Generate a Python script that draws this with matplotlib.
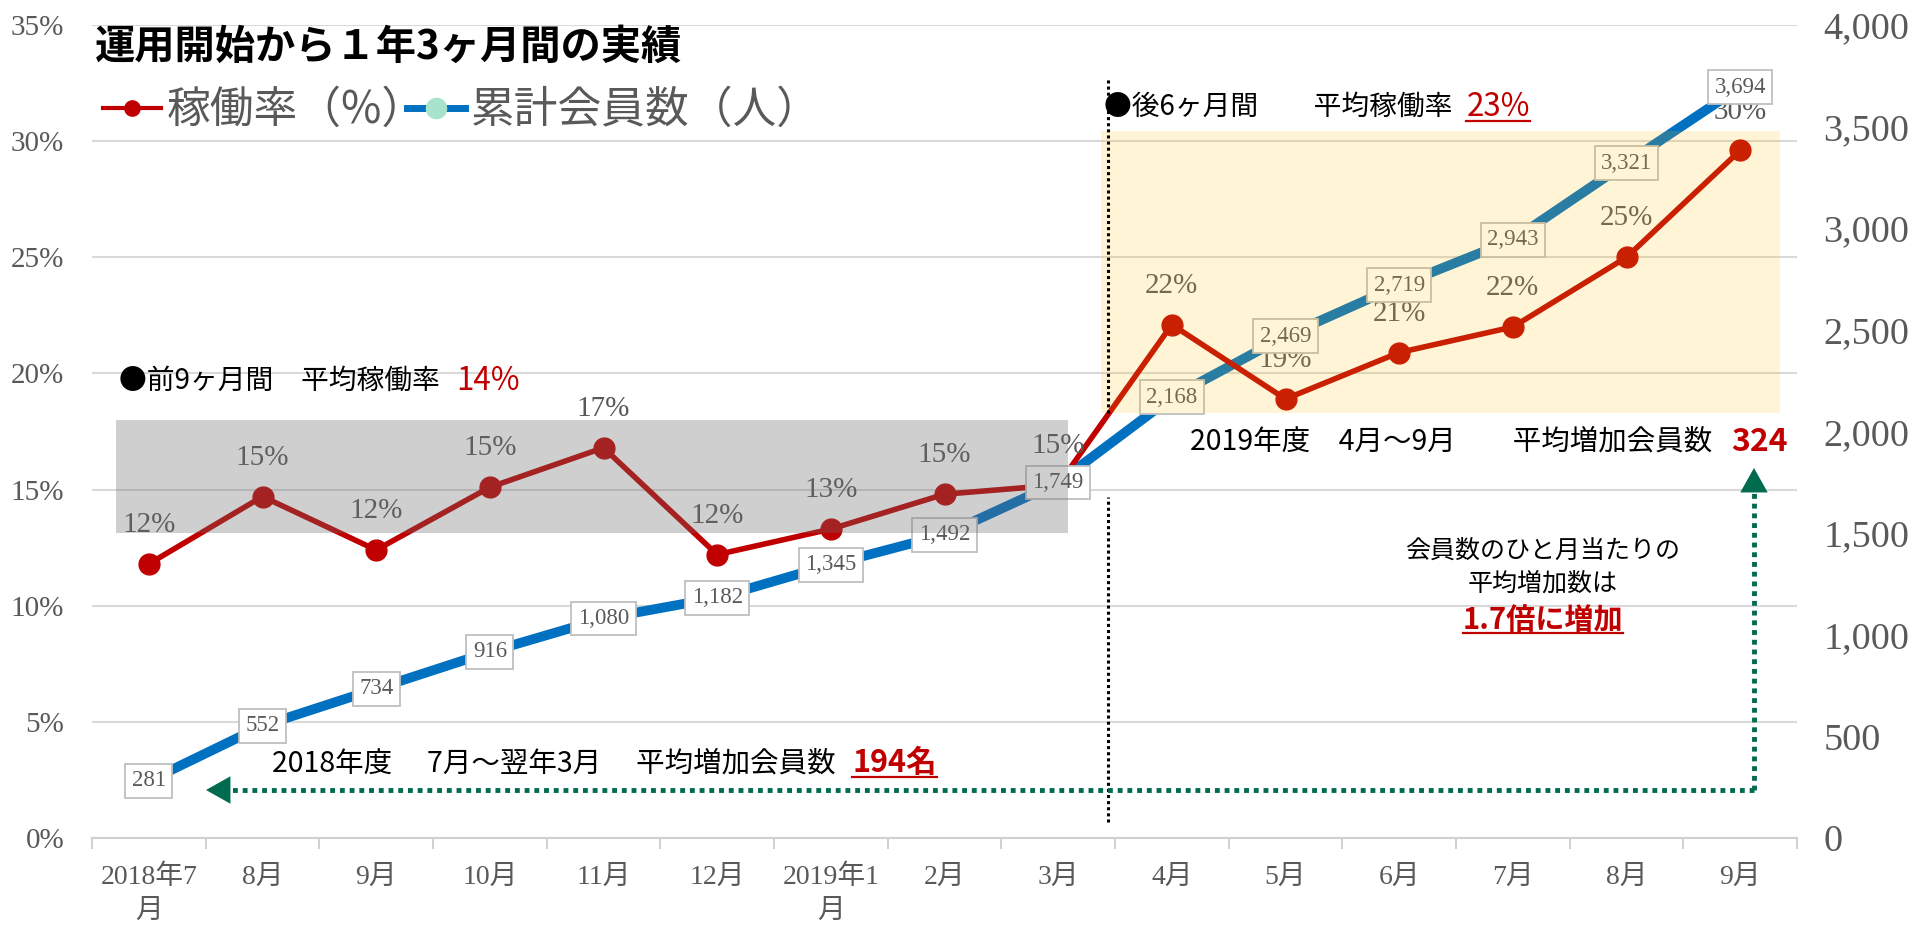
import matplotlib.pyplot as plt
from matplotlib.lines import Line2D
from matplotlib.patches import Rectangle
from matplotlib.transforms import IdentityTransform

plt.rcParams['font.family'] = ['Noto Sans CJK JP', 'DejaVu Sans']

# data
months = ['2018年7\n月', '8月', '9月', '10月', '11月', '12月', '2019年1\n月', '2月', '3月',
          '4月', '5月', '6月', '7月', '8月', '9月']
rate = [11.8, 14.7, 12.4, 15.1, 16.8, 12.2, 13.3, 14.8, 15.2, 22.1, 18.9, 20.9, 22.0, 25.0, 29.6]
members = [281, 552, 734, 916, 1080, 1182, 1345, 1492, 1749, 2168, 2469, 2719, 2943, 3321, 3694]
rate_ticks = [0, 5, 10, 15, 20, 25, 30, 35]
member_ticks = [0, 500, 1000, 1500, 2000, 2500, 3000, 3500, 4000]

W, H = 1920, 933
red = '#C00000'
blue = '#0070C0'
green = '#006B4F'
grey = '#595959'
serif = ['Liberation Serif', 'Noto Sans CJK JP']


def fp(x, y):
    # pixel position (from top-left) -> figure fraction
    return x / W, 1 - y / H


fig = plt.figure(figsize=(19.2, 9.33), dpi=100)
ax = fig.add_axes([92 / W, 95 / H, (1797 - 92) / W, (838 - 25) / H])
ax2 = ax.twinx()
ax.set_xlim(-0.5, 14.5)
ax.set_ylim(0, 35)
ax2.set_ylim(0, 4000)

for s in ax.spines.values():
    s.set_visible(False)
for s in ax2.spines.values():
    s.set_visible(False)
ax.spines['bottom'].set_visible(True)
ax.spines['bottom'].set_color('#D0D0D0')
ax.spines['bottom'].set_linewidth(1.5)

ax.set_yticks(rate_ticks, [f'{v}%' for v in rate_ticks])
ax.tick_params(axis='y', length=0, pad=20, labelsize=21, labelcolor=grey)
ax2.set_yticks(member_ticks, [f'{v:,}' for v in member_ticks])
ax2.tick_params(axis='y', length=0, pad=19, labelsize=27.5, labelcolor=grey)
ax.set_xticks(range(len(months)), months)
ax.set_xticks([i - 0.5 for i in range(len(months) + 1)], minor=True)
ax.tick_params(axis='x', which='major', length=0, pad=19, labelsize=20, labelcolor=grey)
ax.tick_params(axis='x', which='minor', length=8, width=1.2, color='#C8C8C8')
for lab in ax.get_yticklabels() + ax2.get_yticklabels():
    lab.set_family(serif)
for lab in ax.get_xticklabels():
    lab.set_family(serif)
    lab.set_linespacing(1.45)
ax.grid(axis='y', color='#D9D9D9', lw=1.5)
ax.set_axisbelow(True)

x = list(range(len(months)))
ax.plot(x, members, transform=ax2.transData, color=blue, lw=7, solid_capstyle='butt', zorder=2)
ax.plot(x, rate, color=red, lw=4, marker='o', ms=15, zorder=3)

for i, v in enumerate(rate):
    ax.annotate(f'{v:.0f}%', (i, v), xytext=(0, 28), textcoords='offset points',
                ha='center', va='center', fontsize=21, color=grey, family=serif, zorder=4)
for i, m in enumerate(members):
    ax.text(i, m, f'{m:,}', transform=ax2.transData, ha='center', va='center',
            fontsize=16.5, color=grey, family=serif, zorder=5,
            bbox=dict(boxstyle='square,pad=0.28', fc='white', ec='#BFBFBF', lw=1.3))

# highlight bands
ax.add_patch(Rectangle((-0.29, 13.13), 8.38, 4.86, fc='#6C6C6C', alpha=0.32, lw=0, zorder=6))
ax.add_patch(Rectangle((8.377, 18.3), 5.97, 12.13, fc='#FFBE0E', alpha=0.17, lw=0, zorder=6))

# dotted divider
ax.plot([8.44, 8.44], [18.3, 32.7], color='black', lw=2.2, ls=(0, (1, 1)), zorder=7)
ax.plot([8.44, 8.44], [0.69, 14.68], color='black', lw=2.2, ls=(0, (1, 1)), zorder=7)

# legend (two single-entry legends so each sits where the reference has it)
h_rate = Line2D([], [], color=red, lw=3, marker='o', ms=11)
h_mem = Line2D([], [], color=blue, lw=5, marker='o', ms=14.5, mfc='#A8E4CC', mec='#A8E4CC')
for h, lab, xpos in [(h_rate, '稼働率（%）', 103), (h_mem, '累計会員数（人）', 407)]:
    fig.legend([h], [lab], loc='center left', bbox_to_anchor=fp(xpos, 110), frameon=False,
               fontsize=31.5, handlelength=1.33, handletextpad=0.12,
               borderpad=0, borderaxespad=0, labelcolor=grey)

fig.text(*fp(95, 47), '運用開始から１年3ヶ月間の実績', fontsize=29, weight='bold', va='center')

# annotations
t1 = fig.text(*fp(119, 381), '●前9ヶ月間　平均稼働率', fontsize=20, va='center')
ax.annotate('14%', xy=(1, 0.5), xycoords=t1, xytext=(12, 0), textcoords='offset points',
            va='center', ha='left', fontsize=22.5, color=red)

t2 = fig.text(*fp(1104, 107), '●後6ヶ月間　　平均稼働率', fontsize=20, va='center')
t23 = ax.annotate('23%', xy=(1, 0.5), xycoords=t2, xytext=(10, 0), textcoords='offset points',
                  va='center', ha='left', fontsize=22.5, color=red)

t3 = fig.text(*fp(1190, 442), '2019年度　4月～9月　　平均増加会員数', fontsize=20.5, va='center')
ax.annotate('324', xy=(1, 0.5), xycoords=t3, xytext=(14, 0), textcoords='offset points',
            va='center', ha='left', fontsize=23, color=red, weight='bold')

t4 = fig.text(*fp(272, 763), '2018年度　 7月～翌年3月　 平均増加会員数', fontsize=20.5, va='center')
t194 = ax.annotate('194名', xy=(1, 0.5), xycoords=t4, xytext=(12, 0), textcoords='offset points',
                   va='center', ha='left', fontsize=22, color=red, weight='bold')

fig.text(*fp(1543, 567), '会員数のひと月当たりの\n平均増加数は', fontsize=18, ha='center',
         va='center', linespacing=1.35)
t17 = fig.text(*fp(1543, 620), '1.7倍に増加', fontsize=21, ha='center', va='center',
               color=red, weight='bold')

# green arrows
fig.add_artist(Line2D([1754 / W, 1754 / W], [1 - 790 / H, 1 - 488 / H], color=green, lw=3.5,
                      ls=(0, (1, 1)), transform=fig.transFigure))
fig.add_artist(Line2D([1754 / W, 224 / W], [1 - 790 / H, 1 - 790 / H], color=green, lw=3.5,
                      ls=(0, (1, 1)), transform=fig.transFigure))
for tip, base in [((1754, 468), (1754, 492)), ((206, 790), (230, 790))]:
    ax.annotate('', xy=(tip[0], H - tip[1]), xytext=(base[0], H - base[1]),
                xycoords='figure pixels', textcoords='figure pixels',
                arrowprops=dict(arrowstyle='-|>,head_length=0.8,head_width=0.45',
                                mutation_scale=22, color=green, lw=0, shrinkA=0, shrinkB=0))

# underlines
fig.canvas.draw()
for t in [t23, t194, t17]:
    bb = t.get_window_extent()
    fig.add_artist(Line2D([bb.x0, bb.x1], [bb.y0 + 2, bb.y0 + 2], transform=IdentityTransform(),
                          color=red, lw=1.6))

fig.savefig('out.png', dpi=100)
